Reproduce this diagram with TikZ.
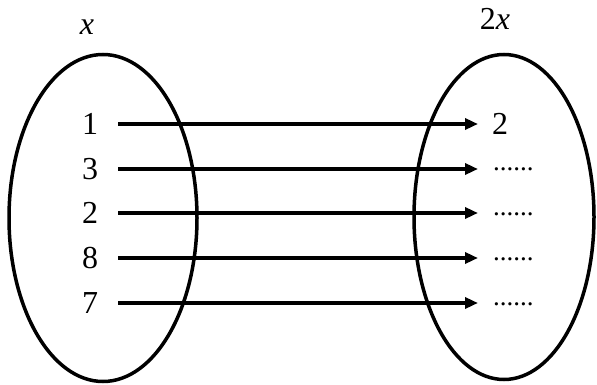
\documentclass[tikz,border=0pt]{standalone}
\usepackage{fontspec}
\setmainfont{Liberation Serif}
\usetikzlibrary{shapes.geometric,arrows.meta}
\begin{document}
\begin{tikzpicture}[x=1pt,y=-1pt,
  setell/.style={draw,ellipse,line width=3.5pt,inner sep=0pt},
  num/.style={inner sep=0pt,font=\fontsize{32}{38}\selectfont},
  dotlab/.style={inner sep=0pt,anchor=base west,font=\fontsize{27}{30}\selectfont},
  arr/.style={line width=3.8pt,-{Triangle[length=13pt,width=11pt]}}]
\useasboundingbox (0,0) rectangle (597,385);
\node[setell,minimum width=188pt,minimum height=327pt] (A) at (103,218) {};
\node[setell,minimum width=180pt,minimum height=325pt] (B) at (504,217) {};
\node[num] (tx) at (87,27) {\itshape x};
\node[num] (t2x) at (495,19) {2\itshape x};
\node[num] (l1) at (90,124) {1};
\node[num] (l2) at (90,169) {3};
\node[num] (l3) at (90,213) {2};
\node[num] (l4) at (90,258) {8};
\node[num] (l5) at (90,303) {7};
\node[num,anchor=west] (r1) at (492,124) {2};
\node[dotlab] (r2) at (493,171) {......};
\node[dotlab] (r3) at (493,215) {......};
\node[dotlab] (r4) at (493,260) {......};
\node[dotlab] (r5) at (493,305) {......};
\draw[arr] ([xshift=20pt]l1.east) -- ([xshift=-14pt]r1.west);
\draw[arr] ([xshift=20pt]l2.east |- l2) -- ([xshift=-15pt]r2.west |- l2);
\draw[arr] ([xshift=20pt]l3.east |- l3) -- ([xshift=-15pt]r3.west |- l3);
\draw[arr] ([xshift=20pt]l4.east |- l4) -- ([xshift=-15pt]r4.west |- l4);
\draw[arr] ([xshift=20pt]l5.east |- l5) -- ([xshift=-15pt]r5.west |- l5);
\end{tikzpicture}
\end{document}
